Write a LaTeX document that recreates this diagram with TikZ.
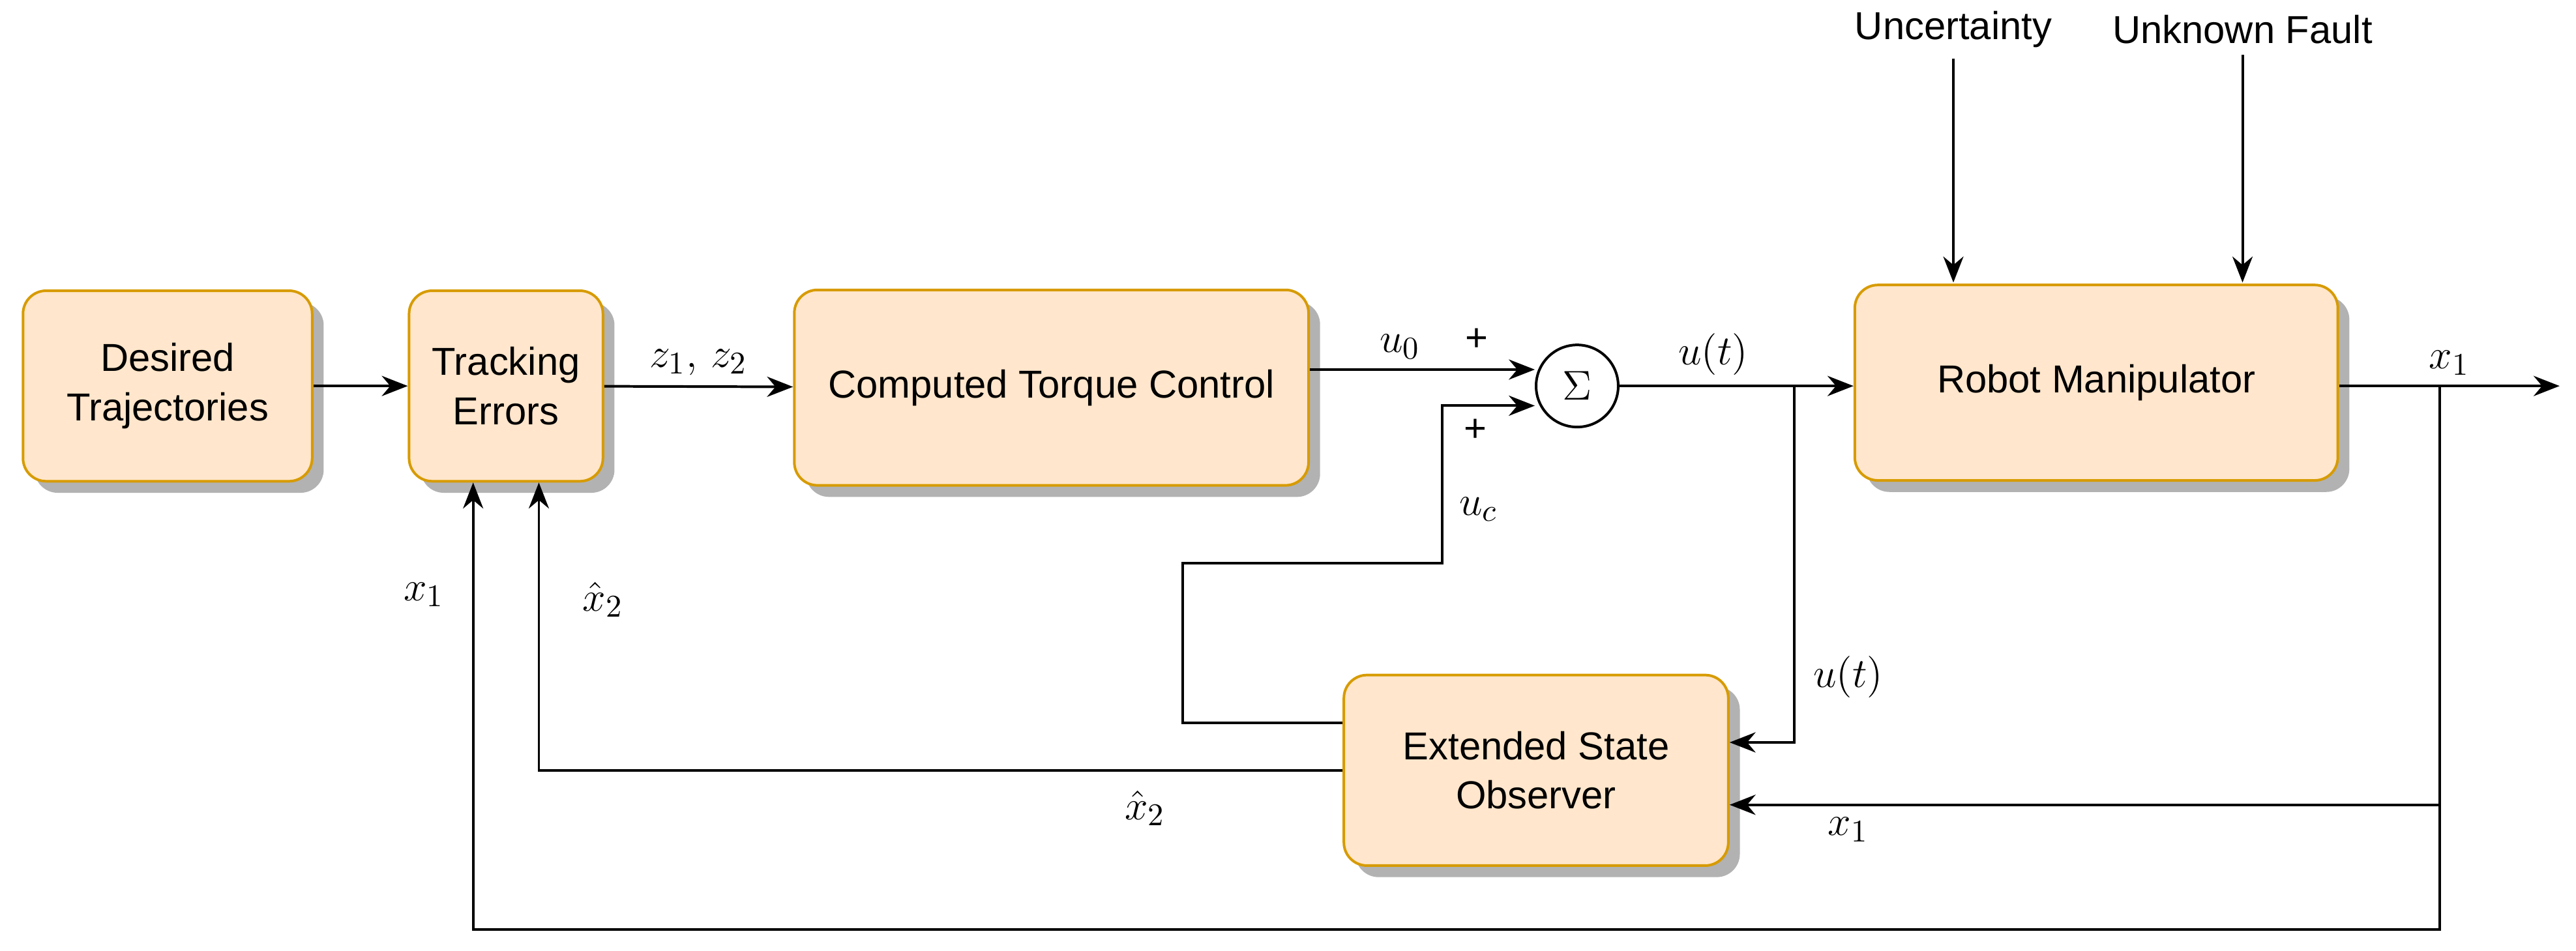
\documentclass[tikz,border=0pt]{standalone}
\usepackage{fontspec}
\setmainfont{Liberation Sans}
\usetikzlibrary{shadows,arrows.meta}
\definecolor{boxfill}{HTML}{FFE6CC}
\definecolor{boxdraw}{HTML}{D79B00}

\begin{document}
\begin{tikzpicture}[x=0.02cm, y=-0.02cm, >={Stealth[length=9pt,width=7pt]}, line width=0.9pt,
  font=\fontsize{13.5}{17}\selectfont]
	\tikzstyle{block} = [draw=boxdraw, fill=boxfill, rounded corners=8pt, align=center,
	  inner sep=0pt, drop shadow={shadow xshift=4pt, shadow yshift=-4pt, opacity=1, fill=black!30}]
	\tikzstyle{lbl} = [font=\fontsize{15}{18}\selectfont]

	\useasboundingbox (0,0) rectangle (1568,579);

	\node [block, minimum width=176*0.02cm, minimum height=116*0.02cm] (traj) at (102,235) {Desired\\Trajectories};
	\node [block, minimum width=118*0.02cm, minimum height=116*0.02cm] (track) at (308,235) {Tracking\\Errors};
	\node [block, minimum width=313*0.02cm, minimum height=119*0.02cm] (ctc) at (640,236) {Computed Torque Control};
	\node [draw, circle, minimum size=50*0.02cm, inner sep=0pt] (sum) at (960,235) {$\Sigma$};
	\node [block, minimum width=294*0.02cm, minimum height=119*0.02cm] (robot) at (1276,233) {Robot Manipulator};
	\node [block, minimum width=234*0.02cm, minimum height=116*0.02cm] (eso) at (935,469) {Extended State\\Observer};

	\node (unc) at (1189,18) {Uncertainty};
	\node (fault) at (1365,18) {Unknown Fault};
	\coordinate (out) at (1558,235);
	\coordinate (br1) at (1092,235);
	\coordinate (br2) at (1485,235);

	\draw [->] (unc) -- (1189,172);
	\draw [->] (fault) -- (1365,172);
	\draw [->] (traj) -- (track);
	\draw [->] (track) -- node[above, lbl] {$z_1,\,z_2$} (ctc);
	\draw [->] (ctc.east |- 0,225) -- node[above, lbl, pos=0.4] {$u_0$} (sum.west |- 0,225);
	\draw [->] (sum) -- node[above, lbl, pos=0.4] {$u(t)$} (robot.west |- sum);
	\draw [->] (robot.east |- out) -- node[above, lbl] {$x_1$} (out);
	\draw [->] (br1) -- (1092,452) -- (eso.east |- 0,452);
	\draw [->] (br2) -- (1485,490) -- (eso.east |- 0,490);
	\draw [->] (1485,490) -- (1485,566) -- (288,566) -- (track.south -| 288,0);
	\draw [->] (eso.west |- 0,469) -- (328,469) -- (track.south -| 328,0);
	\draw [->] (eso.west |- 0,440) -- (720,440) -- (720,343) -- (878,343) -- (878,247) -- (sum.west |- 0,247);

	\node at (899,207) {+};
	\node at (898,262) {+};
	\node [lbl] at (900,310) {$u_c$};
	\node [lbl] at (1125,412) {$u(t)$};
	\node [lbl] at (1125,505) {$x_1$};
	\node [lbl] at (258,362) {$x_1$};
	\node [lbl] at (367,365) {$\hat{x}_2$};
	\node [lbl] at (697,492) {$\hat{x}_2$};
\end{tikzpicture}
\end{document}
